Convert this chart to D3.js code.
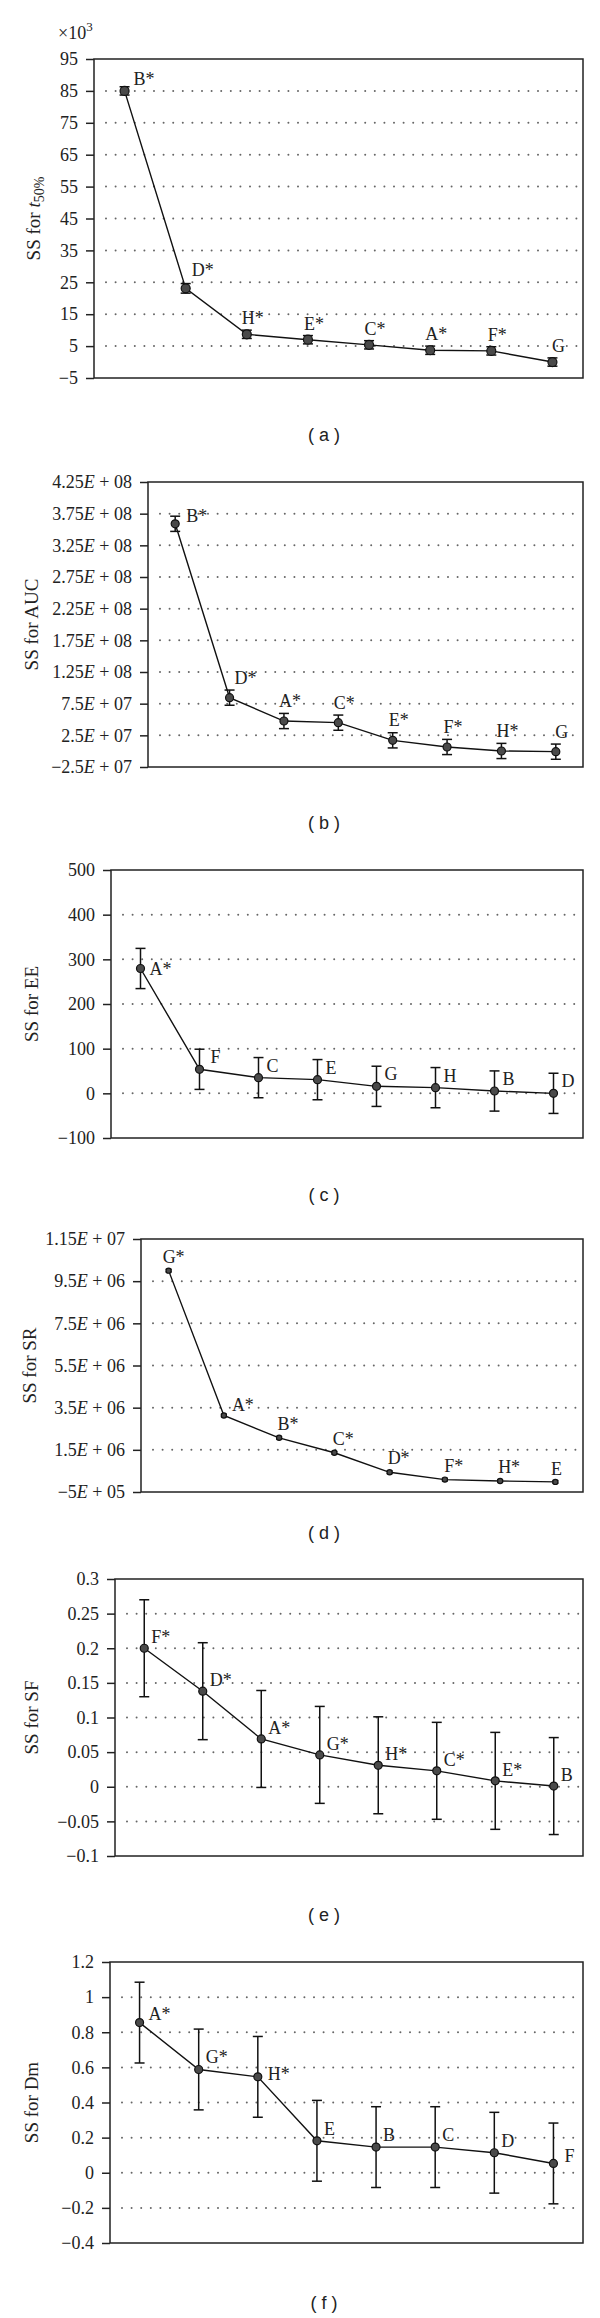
<!DOCTYPE html>
<html><head><meta charset="utf-8">
<script src="https://cdn.jsdelivr.net/npm/d3@7"></script>
<style>body{margin:0;background:#fff} svg{display:block}</style>
</head><body><svg id="chart" width="600" height="2318"></svg>
<script>
// ---------- data ----------
const catsA = ["B*","D*","H*","E*","C*","A*","F*","G"];
const valsA = [85.0, 23.1, 8.7, 7.0, 5.4, 3.7, 3.5, 0.0];
const errA  = [1.3, 1.5, 1.3, 1.3, 1.3, 1.3, 1.3, 1.3];
const ticksA = [95,85,75,65,55,45,35,25,15,5,-5];
const tickLabelsA = ["95","85","75","65","55","45","35","25","15","5","−5"];

const catsB = ["B*","D*","A*","C*","E*","F*","H*","G"];
const valsB = [3.59e8, 8.45e7, 4.76e7, 4.5e7, 1.71e7, 6.6e6, 3e5, -8e5];
const errB  = [1.2e7, 1.2e7, 1.2e7, 1.2e7, 1.2e7, 1.2e7, 1.2e7, 1.2e7];
const ticksB = [4.25e8,3.75e8,3.25e8,2.75e8,2.25e8,1.75e8,1.25e8,7.5e7,2.5e7,-2.5e7];
const tickLabelsB = ["4.25E + 08","3.75E + 08","3.25E + 08","2.75E + 08","2.25E + 08","1.75E + 08","1.25E + 08","7.5E + 07","2.5E + 07","−2.5E + 07"];

const catsC = ["A*","F","C","E","G","H","B","D"];
const valsC = [279.5, 53.8, 35.1, 30.6, 15.7, 12.7, 5.2, 0.0];
const errC  = [45, 45, 45, 45, 45, 45, 45, 45];
const ticksC = [500,400,300,200,100,0,-100];
const tickLabelsC = ["500","400","300","200","100","0","−100"];

const catsD = ["G*","A*","B*","C*","D*","F*","H*","E"];
const valsD = [1.0e7, 3.13e6, 2.07e6, 1.36e6, 4.35e5, 8.7e4, 2.3e4, -2e4];
const errD  = [6e4, 6e4, 6e4, 6e4, 6e4, 6e4, 6e4, 6e4];
const ticksD = [1.15e7,9.5e6,7.5e6,5.5e6,3.5e6,1.5e6,-5e5];
const tickLabelsD = ["1.15E + 07","9.5E + 06","7.5E + 06","5.5E + 06","3.5E + 06","1.5E + 06","−5E + 05"];

const catsE = ["F*","D*","A*","G*","H*","C*","E*","B"];
const valsE = [0.200, 0.138, 0.069, 0.046, 0.031, 0.023, 0.0085, 0.001];
const errE  = [0.07, 0.07, 0.07, 0.07, 0.07, 0.07, 0.07, 0.07];
const ticksE = [0.3,0.25,0.2,0.15,0.1,0.05,0,-0.05,-0.1];
const tickLabelsE = ["0.3","0.25","0.2","0.15","0.1","0.05","0","−0.05","−0.1"];

const catsF = ["A*","G*","H*","E","B","C","D","F"];
const valsF = [0.855, 0.588, 0.546, 0.182, 0.146, 0.146, 0.114, 0.053];
const errF  = [0.23, 0.23, 0.23, 0.23, 0.23, 0.23, 0.23, 0.23];
const ticksF = [1.2,1,0.8,0.6,0.4,0.2,0,-0.2,-0.4];
const tickLabelsF = ["1.2","1","0.8","0.6","0.4","0.2","0","−0.2","−0.4"];

const captions = ["( a )","( b )","( c )","( d )","( e )","( f )"];

// ---------- layout / style ----------
const RIGHT = 583;
const panels = [
  {cats:catsA, vals:valsA, err:errA, ticks:ticksA, labels:tickLabelsA, title:"A", tx:33,
   box:[94,59,378], cap:435, r:4.5, lab:{anchor:"middle",dx:6,dy:-10},
   special:{0:{anchor:"start",dx:9,dy:-6},1:{anchor:"start",dx:6,dy:-12}}},
  {cats:catsB, vals:valsB, err:errB, ticks:ticksB, labels:tickLabelsB, title:"SS for AUC", tx:31,
   box:[148,482,767], cap:823, r:4, lab:{anchor:"middle",dx:6,dy:-14},
   special:{0:{anchor:"start",dx:11,dy:-2},1:{anchor:"start",dx:5,dy:-14}}},
  {cats:catsC, vals:valsC, err:errC, ticks:ticksC, labels:tickLabelsC, title:"SS for EE", tx:31,
   box:[111,870,1138], cap:1195, r:4, lab:{anchor:"start",dx:8,dy:-6},
   special:{0:{anchor:"start",dx:9,dy:7},1:{anchor:"start",dx:11,dy:-6}}},
  {cats:catsD, vals:valsD, err:errD, ticks:ticksD, labels:tickLabelsD, title:"SS for SR", tx:29,
   box:[141,1239,1492], cap:1533, r:2.6, lab:{anchor:"middle",dx:9,dy:-8},
   special:{0:{anchor:"middle",dx:5,dy:-8},1:{anchor:"start",dx:8,dy:-4},7:{anchor:"middle",dx:1,dy:-7}}},
  {cats:catsE, vals:valsE, err:errE, ticks:ticksE, labels:tickLabelsE, title:"SS for SF", tx:31,
   box:[115,1579,1856], cap:1915, r:4, lab:{anchor:"start",dx:7,dy:-5}, special:{}},
  {cats:catsF, vals:valsF, err:errF, ticks:ticksF, labels:tickLabelsF, title:"SS for Dm", tx:31,
   box:[110,1962,2243], cap:2303, r:4, lab:{anchor:"start",dx:7,dy:-6},
   special:{0:{anchor:"start",dx:9,dy:-3},2:{anchor:"start",dx:10,dy:3},7:{anchor:"start",dx:11,dy:-1}}}
];
const SERIF = "'Liberation Serif','Times New Roman',serif";
const SANS = "'Liberation Sans',Arial,sans-serif";

const svg = d3.select("#chart");
svg.append("rect").attr("width",600).attr("height",2318).attr("fill","#fff");

panels.forEach((p, pi) => {
  const [left, top, bottom] = p.box;
  const g = svg.append("g");
  const y = d3.scaleLinear().domain([p.ticks[p.ticks.length-1], p.ticks[0]]).range([bottom, top]);
  const x = d3.scalePoint().domain(p.cats).range([left, RIGHT]).padding(0.5);

  // grid lines (interior ticks)
  g.append("g").selectAll("line").data(p.ticks.slice(1, -1)).join("line")
    .attr("x1", left + 12).attr("x2", RIGHT - 3)
    .attr("y1", d => y(d)).attr("y2", d => y(d))
    .attr("stroke", "#666").attr("stroke-width", 2)
    .attr("stroke-linecap", "round").attr("stroke-dasharray", "0 9.6");

  // box
  g.append("rect").attr("x", left).attr("y", top)
    .attr("width", RIGHT - left).attr("height", bottom - top)
    .attr("fill", "none").attr("stroke", "#222").attr("stroke-width", 1.5);

  // axis
  const ax = g.append("g").attr("transform", `translate(${left},0)`)
    .call(d3.axisLeft(y).tickValues(p.ticks).tickSize(8).tickPadding(8)
      .tickFormat((d, i) => p.labels[i]));
  ax.select(".domain").remove();
  ax.selectAll(".tick line").attr("stroke", "#222").attr("stroke-width", 1.5);
  ax.selectAll(".tick text").attr("font-family", SERIF).attr("font-size", 18)
    .attr("fill", "#222")
    .each(function(d, i) {
      const s = p.labels[i];
      if (s.indexOf("E") >= 0) {
        const [a, b] = s.split("E");
        const t = d3.select(this).text(null);
        t.append("tspan").text(a);
        t.append("tspan").attr("font-style", "italic").text("E");
        t.append("tspan").text(b);
      }
    });

  // y title
  const ty = (top + bottom) / 2;
  const tt = g.append("text").attr("transform", `translate(${p.tx},${ty}) rotate(-90)`)
    .attr("text-anchor", "middle").attr("dy", "0.35em")
    .attr("font-family", SERIF).attr("font-size", 19).attr("fill", "#222");
  if (p.title === "A") {
    tt.append("tspan").text("SS for ");
    tt.append("tspan").attr("font-style", "italic").text("t");
    tt.append("tspan").attr("font-size", 14).attr("dy", 4).text("50%");
  } else {
    tt.text(p.title);
  }

  // line
  const pts = p.cats.map((c, i) => [x(c), y(p.vals[i])]);
  g.append("path").attr("d", d3.line()(pts)).attr("fill", "none")
    .attr("stroke", "#111").attr("stroke-width", 1.4);

  // error bars
  const eb = g.append("g").attr("stroke", "#111").attr("stroke-width", 1.5);
  p.cats.forEach((c, i) => {
    const cx = x(c), hi = y(p.vals[i] + p.err[i]), lo = y(p.vals[i] - p.err[i]);
    const cw = pi === 3 ? 3 : 5;
    eb.append("line").attr("x1", cx).attr("x2", cx).attr("y1", hi).attr("y2", lo);
    eb.append("line").attr("x1", cx - cw).attr("x2", cx + cw).attr("y1", hi).attr("y2", hi);
    eb.append("line").attr("x1", cx - cw).attr("x2", cx + cw).attr("y1", lo).attr("y2", lo);
  });

  // markers
  g.append("g").selectAll("circle").data(p.cats).join("circle")
    .attr("cx", c => x(c)).attr("cy", (c, i) => y(p.vals[i])).attr("r", p.r)
    .attr("fill", "#4a4a4a").attr("stroke", "#111").attr("stroke-width", 1.2);

  // point labels
  g.append("g").selectAll("text").data(p.cats).join("text")
    .each(function(c, i) {
      const o = p.special[i] || p.lab;
      d3.select(this).attr("x", x(c) + o.dx).attr("y", y(p.vals[i]) + o.dy)
        .attr("text-anchor", o.anchor);
    })
    .attr("font-family", SERIF).attr("font-size", 18).attr("fill", "#222")
    .text(c => c);

  // caption
  svg.append("text").attr("x", 324).attr("y", p.cap).attr("dy", "0.35em")
    .attr("text-anchor", "middle").attr("font-family", SANS).attr("font-size", 18)
    .attr("fill", "#222").text(captions[pi]);
});

// x10^3 header for panel a
const hx = svg.append("text").attr("x", 58).attr("y", 39)
  .attr("font-family", SERIF).attr("font-size", 18).attr("fill", "#222");
hx.append("tspan").text("×10");
hx.append("tspan").attr("font-size", 13).attr("dy", -8).text("3");
</script></body></html>
